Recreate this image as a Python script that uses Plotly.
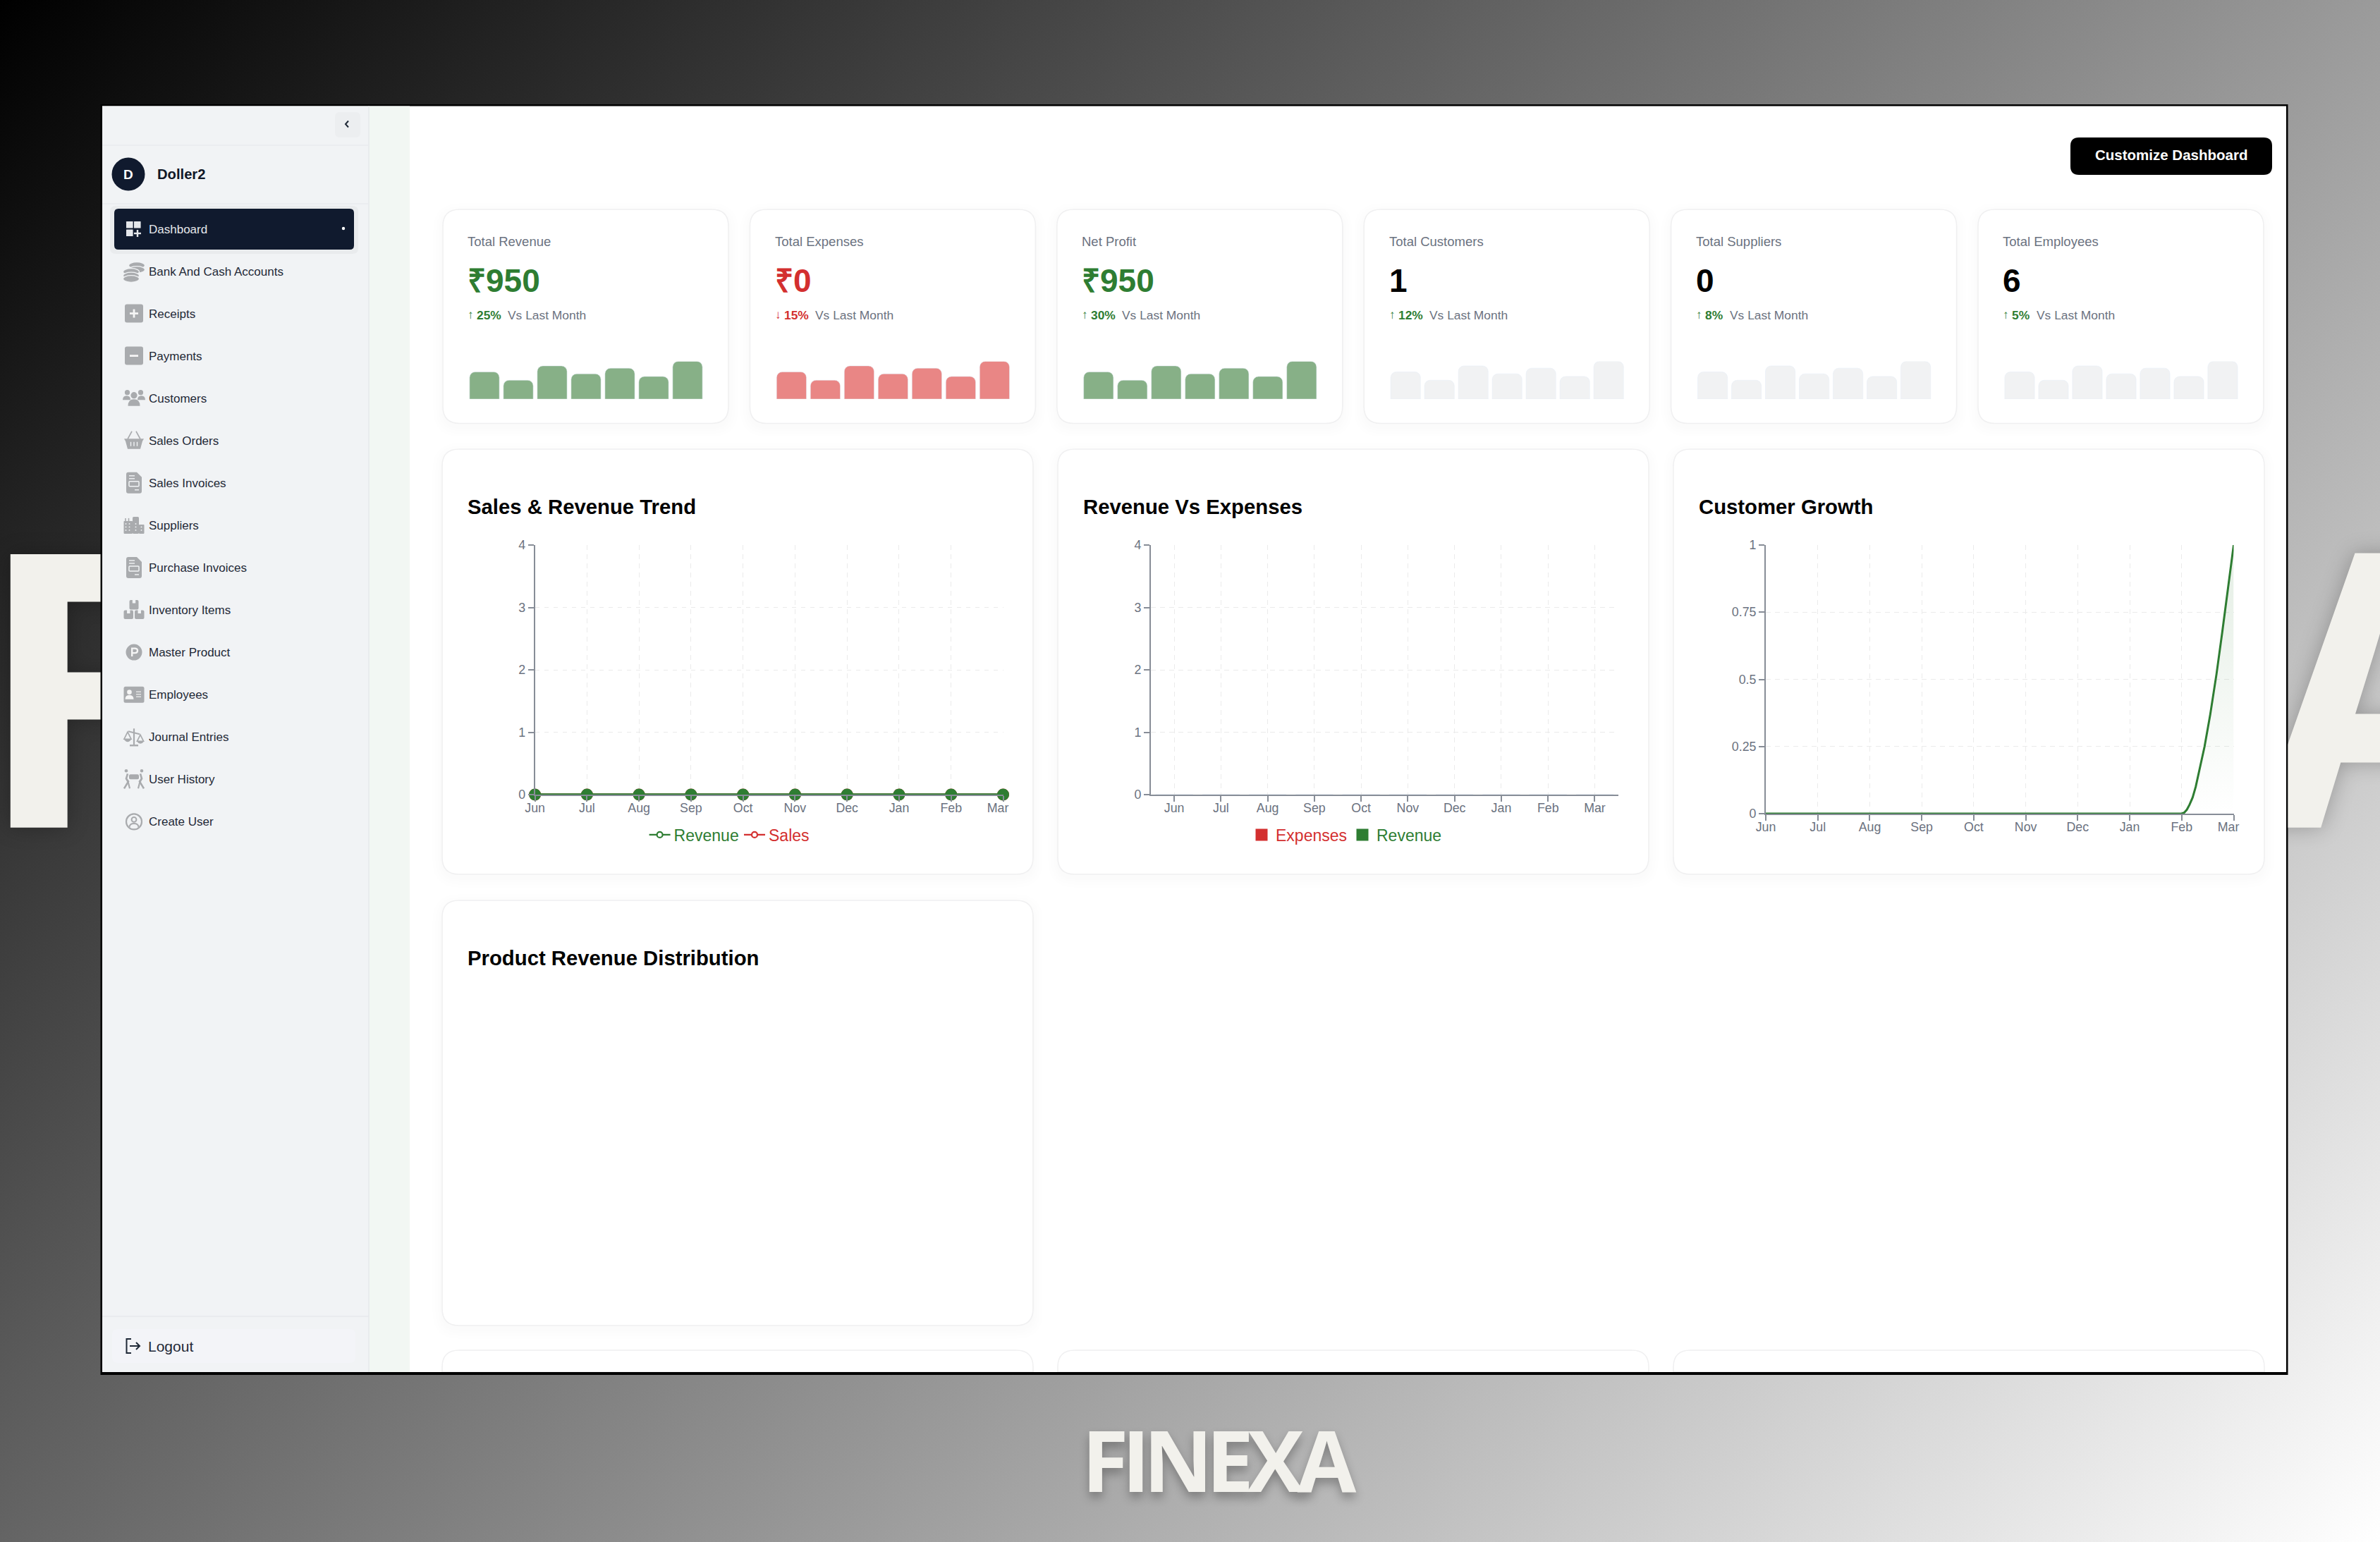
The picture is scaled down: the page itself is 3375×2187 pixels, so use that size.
import base64
import plotly.graph_objects as go

W, H = 3375, 2187
FONT = "Liberation Sans"
GREEN, RED = "#2E7D32", "#D32F2F"

# ---------- data ----------
months = ["Jun", "Jul", "Aug", "Sep", "Oct", "Nov", "Dec", "Jan", "Feb", "Mar"]
month_pos = list(range(10))
month_ticks = months[:-1] + ["Mar\u00a0\u00a0\u00a0"]
revenue_trend = [0, 0, 0, 0, 0, 0, 0, 0, 0, 0]
sales_trend = [0, 0, 0, 0, 0, 0, 0, 0, 0, 0]
expenses_bars = [0, 0, 0, 0, 0, 0, 0, 0, 0, 0]
revenue_bars = [0, 0, 0, 0, 0, 0, 0, 0, 0, 0]
trend_ticks = [0, 1, 2, 3, 4]
customer_x = [0, 1, 2, 3, 4, 5, 6, 7, 8, 8.05, 8.10, 8.15, 8.21, 8.27, 8.33, 8.44, 8.55, 8.67, 8.78, 8.89, 9]
customer_y = [0, 0, 0, 0, 0, 0, 0, 0, 0, 0.004, 0.015, 0.033, 0.06, 0.10, 0.15, 0.25, 0.37, 0.52, 0.675, 0.835, 1]
customer_ticks = [0, 0.25, 0.5, 0.75, 1]
customer_tick_text = ["0", "0.25", "0.5", "0.75", "1"]
kpi_labels = ["Total Revenue", "Total Expenses", "Net Profit", "Total Customers", "Total Suppliers", "Total Employees"]
kpi_values = ["₹950", "₹0", "₹950", "1", "0", "6"]
kpi_changes = ["25%", "15%", "30%", "12%", "8%", "5%"]
kpi_arrows = ["↑", "↓", "↑", "↑", "↑", "↑"]
spark_pos = [0, 1, 2, 3, 4, 5, 6]
spark_values = [72, 50, 88, 67, 82, 60, 100]
menu_items = ["Dashboard", "Bank And Cash Accounts", "Receipts", "Payments", "Customers", "Sales Orders",
              "Sales Invoices", "Suppliers", "Purchase Invoices", "Inventory Items", "Master Product",
              "Employees", "Journal Entries", "User History", "Create User"]

# ---------- pixel helpers for the page chrome ----------
fx = lambda x: x / W
fy = lambda y: 1 - y / H
shapes, notes = [], []


def P(x, y):
    return f"{fx(x):.6f},{fy(y):.6f}"


def path(d, fill=None, line=None, lw=0):
    s = dict(type="path", xref="paper", yref="paper", path=d, layer="below",
             line=dict(color=line or "rgba(0,0,0,0)", width=lw))
    if fill:
        s["fillcolor"] = fill
    shapes.append(s)


def rrect(x0, y0, x1, y1, r, fill, line=None, lw=0, square_bottom=False):
    if square_bottom:
        d = (f"M{P(x0, y1)} L{P(x0, y0 + r)} Q{P(x0, y0)} {P(x0 + r, y0)} L{P(x1 - r, y0)} "
             f"Q{P(x1, y0)} {P(x1, y0 + r)} L{P(x1, y1)} Z")
    else:
        d = (f"M{P(x0 + r, y0)} L{P(x1 - r, y0)} Q{P(x1, y0)} {P(x1, y0 + r)} L{P(x1, y1 - r)} "
             f"Q{P(x1, y1)} {P(x1 - r, y1)} L{P(x0 + r, y1)} Q{P(x0, y1)} {P(x0, y1 - r)} "
             f"L{P(x0, y0 + r)} Q{P(x0, y0)} {P(x0 + r, y0)} Z")
    path(d, fill, line, lw)


def poly(pts, fill=None, line=None, lw=0, close=True):
    d = "M" + " L".join(P(*p) for p in pts) + (" Z" if close else "")
    path(d, fill, line, lw)


def oval(cx, cy, rx, ry, fill=None, line=None, lw=0):
    shapes.append(dict(type="circle", xref="paper", yref="paper", layer="below",
                       x0=fx(cx - rx), x1=fx(cx + rx), y0=fy(cy + ry), y1=fy(cy - ry),
                       fillcolor=fill or "rgba(0,0,0,0)",
                       line=dict(color=line or "rgba(0,0,0,0)", width=lw)))


def dome(cx, top, w, h, fill):
    path(f"M{P(cx - w, top + h)} Q{P(cx - w, top)} {P(cx, top)} Q{P(cx + w, top)} {P(cx + w, top + h)} Z", fill)


def text(x, y, s, size, color, weight=400, anchor="left", family=FONT, shadow=None):
    font = dict(family=family, size=size, color=color, weight=weight)
    if shadow:
        font["shadow"] = shadow
    if anchor == "left":
        x -= 1.6
    notes.append(dict(x=fx(x), y=fy(y), xref="paper", yref="paper", text=s, showarrow=False,
                      xanchor=anchor, yanchor="middle", borderpad=0, font=font))


def card(x0, y0, x1, y1, r=24, open_bottom=False):
    if not open_bottom:
        for k in (14, 10, 6, 3):
            rrect(x0 - k, y0 - k + 5, x1 + k, y1 + k + 5, r + k, "rgba(0,0,0,0.005)")
    rrect(x0, y0, x1, y1, r, "#FFFFFF", "#F0F0F1", 1.6, square_bottom=open_bottom)


# ---------- backdrop ----------
svg = (f'<svg xmlns="http://www.w3.org/2000/svg" width="{W}" height="{H}"><defs>'
       '<linearGradient id="g" gradientUnits="userSpaceOnUse" x1="297" y1="-297" x2="3078" y2="2484">'
       '<stop offset="0" stop-color="#000"/><stop offset="1" stop-color="#fff"/></linearGradient></defs>'
       f'<rect width="{W}" height="{H}" fill="url(#g)"/></svg>')
backdrop = "data:image/svg+xml;base64," + base64.b64encode(svg.encode()).decode()

# ---------- window ----------
rrect(142.5, 148, 3244.5, 1950, 0.1, "#000000")
rrect(145, 150.5, 3242, 1946, 0.1, "#FFFFFF")
rrect(145, 150.5, 523, 1946, 0.1, "#F1F3F5")
rrect(523, 150.5, 581, 1946, 0.1, "#F2F7F3")
poly([(523, 150.5), (523, 1946)], line="#E6E8EB", lw=1.5, close=False)
poly([(145, 206), (523, 206)], line="#E9EBEE", lw=1.5, close=False)
poly([(145, 289), (523, 289)], line="#E9EBEE", lw=1.5, close=False)
poly([(145, 1867), (523, 1867)], line="#E6E8EB", lw=1.5, close=False)
rrect(475, 159, 511, 195, 7, "#ECEEF0")
poly([(494, 171.5), (490, 176), (494, 180.5)], line="#1F2937", lw=2, close=False)

oval(182, 247, 23.5, 23.5, "#101A2E")
text(182, 247, "D", 19, "#FFFFFF", 700, "center")
text(224, 247, "Doller2", 20.2, "#111827", 700)

rrect(156, 292, 508, 360, 8, "rgba(0,0,0,0.03)")
rrect(162, 296, 502, 354, 6, "#101A2E")
oval(487, 324, 2.2, 2.2, "#FFFFFF")

MENU_Y = [324.4 + 60.07 * i for i in range(len(menu_items))]
for i, (lbl, y) in enumerate(zip(menu_items, MENU_Y)):
    text(212, y + 0.6, lbl, 17, "#E5E7EB" if i == 0 else "#1F2937")

IC = "#A9ABAE"
BG = "#F1F3F5"
xc = 190


def doc(y):
    path(f"M{P(xc - 8, y - 15)} L{P(xc + 4, y - 15)} L{P(xc + 11, y - 8)} L{P(xc + 11, y + 12)} "
         f"Q{P(xc + 11, y + 15)} {P(xc + 8, y + 15)} L{P(xc - 8, y + 15)} Q{P(xc - 11, y + 15)} {P(xc - 11, y + 12)} "
         f"L{P(xc - 11, y - 12)} Q{P(xc - 11, y - 15)} {P(xc - 8, y - 15)} Z", IC)
    poly([(xc - 7, y - 10), (xc + 1, y - 10)], line=BG, lw=1.4, close=False)
    poly([(xc - 7, y - 6), (xc + 1, y - 6)], line=BG, lw=1.4, close=False)
    rrect(xc - 7, y - 2, xc + 7, y + 5, 1, None, BG, 1.5)
    poly([(xc + 1, y + 10), (xc + 7, y + 10)], line=BG, lw=1.4, close=False)


# dashboard
L = "#E5E7EB"
y = MENU_Y[0]
for a, b in ((179, 314), (190, 314), (179, 325.5)):
    rrect(a, b, a + 9.6, b + 9.6, 0.5, L)
poly([(195, 326), (195, 336)], line=L, lw=2.4, close=False)
poly([(190, 331), (200, 331)], line=L, lw=2.4, close=False)
# bank
y = MENU_Y[1]
for cx, cy in ((194, y - 8), (194, y - 2), (186, y + 1), (186, y + 6.5), (186, y + 11)):
    oval(cx, cy, 11.5, 4.8, IC, BG, 1.2)
# receipts / payments
for idx, plus in ((2, True), (3, False)):
    y = MENU_Y[idx]
    rrect(xc - 13, y - 13, xc + 13, y + 13, 3, IC)
    poly([(xc - 6, y), (xc + 6, y)], line="#F5F5F5", lw=2.8, close=False)
    if plus:
        poly([(xc, y - 6), (xc, y + 6)], line="#F5F5F5", lw=2.8, close=False)
# customers
y = MENU_Y[4]
for dx, dy, r, w, h in ((-9.5, -8, 3.6, 5.5, 6), (9.5, -8, 3.6, 5.5, 6)):
    oval(xc + dx, y + dy, r, r, IC)
    dome(xc + dx * 1.1, y + dy + 4.5, w, h, IC)
oval(xc, y - 4, 4.6, 4.6, IC)
dome(xc, y + 1.5, 8.5, 9.5, IC)
# basket
y = MENU_Y[5]
poly([(xc - 14, y - 2.5), (xc + 14, y - 2.5), (xc + 12, y + 1), (xc + 9, y + 12), (xc - 9, y + 12), (xc - 12, y + 1)], IC)
poly([(xc - 9, y - 2), (xc - 3, y - 13)], line=IC, lw=1.6, close=False)
poly([(xc + 9, y - 2), (xc + 3, y - 13)], line=IC, lw=1.6, close=False)
for dx in (-4.5, 0, 4.5):
    poly([(xc + dx, y + 2), (xc + dx, y + 8)], line=BG, lw=1.4, close=False)
# documents
doc(MENU_Y[6])
doc(MENU_Y[8])
# suppliers
y = MENU_Y[7]
rrect(xc - 14.5, y - 6, xc - 2, y + 12, 0.8, IC)
for dx in (-12, -7.5):
    poly([(xc + dx, y - 10), (xc + dx, y - 5)], line=IC, lw=1.6, close=False)
rrect(xc - 2, y - 12, xc + 7, y + 12, 1.5, IC)
rrect(xc + 7, y - 1, xc + 14.5, y + 12, 0.8, IC)
for dx in (-11.5, -6.5, 2.5, 10.5):
    for dy in (-2, 2.5, 7):
        oval(xc + dx, y + dy, 0.95, 0.95, BG)
# inventory
y = MENU_Y[9]
for a, b, c, d in ((xc - 6.5, y - 14, xc + 6.5, y - 0.5), (xc - 14.5, y + 0.5, xc - 1, y + 13), (xc + 1, y + 0.5, xc + 14.5, y + 13)):
    rrect(a, b, c, d, 2, IC)
    mid = (a + c) / 2
    rrect(mid - 2.2, b - 0.5, mid + 2.2, b + 4.5, 0.3, BG)
# master product
y = MENU_Y[10]
oval(xc, y, 11.5, 11.5, IC)
poly([(xc - 2.8, y + 6), (xc - 2.8, y - 5.5), (xc + 1.5, y - 5.5)], line="#F5F5F5", lw=2.4, close=False)
path(f"M{P(xc + 1, y - 5.5)} Q{P(xc + 5, y - 5.5)} {P(xc + 5, y - 2.3)} Q{P(xc + 5, y + 1)} {P(xc + 1, y + 1)} L{P(xc - 2.8, y + 1)}",
     None, "#F5F5F5", 2.4)
# employees
y = MENU_Y[11]
rrect(xc - 14.5, y - 11.5, xc + 14.5, y + 11.5, 2.5, IC)
oval(xc - 6.5, y - 3.5, 3.3, 3.3, "#F5F5F5")
dome(xc - 6.5, y + 0.5, 6, 6, "#F5F5F5")
for dy in (-4, -0.5, 3):
    poly([(xc + 3, y + dy), (xc + 10, y + dy)], line="#E8E8E8", lw=1.4, close=False)
# journal
y = MENU_Y[12]
poly([(xc - 8, y - 8), (xc + 8, y - 4)], line=IC, lw=2, close=False)
poly([(xc, y - 12), (xc, y + 11)], line=IC, lw=2.2, close=False)
poly([(xc - 6, y + 12), (xc + 6, y + 12)], line=IC, lw=2.4, close=False)
poly([(xc - 9, y - 7), (xc - 14, y + 3), (xc - 4, y + 3)], None, IC, 1.7)
path(f"M{P(xc - 14.5, y + 3)} Q{P(xc - 9, y + 11)} {P(xc - 3.5, y + 3)} Z", IC)
poly([(xc + 9, y - 3), (xc + 4.5, y + 6), (xc + 13.5, y + 6)], None, IC, 1.7)
path(f"M{P(xc + 3.8, y + 6)} Q{P(xc + 9, y + 13)} {P(xc + 14.5, y + 6)} Z", IC)
# user history
y = MENU_Y[13]
oval(xc - 11, y - 12, 2.3, 2.3, IC)
oval(xc + 11, y - 12, 2.3, 2.3, IC)
rrect(xc - 7, y - 7, xc + 7, y, 2, IC)
for s in (-1, 1):
    poly([(xc + s * 9, y - 8), (xc + s * 11, y - 1), (xc + s * 8, y + 3), (xc + s * 14, y + 13)], line=IC, lw=2.6, close=False)
    poly([(xc + s * 11, y - 1), (xc + s * 8, y + 5), (xc + s * 6, y + 13)], line=IC, lw=2.2, close=False)
# create user
y = MENU_Y[14]
oval(xc, y, 11, 11, None, IC, 2.2)
oval(xc, y - 3, 3.4, 3.4, None, IC, 2)
path(f"M{P(xc - 6.5, y + 7.5)} Q{P(xc - 6, y + 2.5)} {P(xc, y + 2.5)} Q{P(xc + 6, y + 2.5)} {P(xc + 6.5, y + 7.5)}", None, IC, 2)

# logout
rrect(159, 1885, 504, 1933, 8, "#F3F4F8")
poly([(186, 1899), (179.5, 1899), (179.5, 1919), (186, 1919)], line="#1F2937", lw=2, close=False)
poly([(184, 1909), (198, 1909)], line="#1F2937", lw=2, close=False)
poly([(193, 1904), (198, 1909), (193, 1914)], line="#1F2937", lw=2, close=False)
text(211, 1909, "Logout", 21, "#1F2937")

# customize button
rrect(2936, 195, 3222, 248, 12, "#000000")
text(3079, 220, "Customize Dashboard", 20.5, "#FFFFFF", 700, "center")

# ---------- KPI cards ----------
KPI_X = [628 + 435.4 * i for i in range(6)]
KPI_COL = [GREEN, RED, GREEN, "#000000", "#000000", "#000000"]
CH_COL = [GREEN, RED, GREEN, GREEN, GREEN, GREEN]
SPARK_COL = ["#87B087", "#E98685", "#87B087", "#F1F2F3", "#F1F2F3", "#F1F2F3"]
VS_OFFSET = [93, 93, 93, 93, 84, 84]
for i, x in enumerate(KPI_X):
    card(x, 297, x + 405, 600.5)
    text(x + 36, 343, kpi_labels[i], 18.5, "#6B7280")
    text(x + 36, 398, kpi_values[i], 46, KPI_COL[i], 700)
    text(x + 36, 446.5, kpi_arrows[i], 17, CH_COL[i])
    text(x + 49, 446.5, kpi_changes[i], 17.4, CH_COL[i], 700)
    text(x + VS_OFFSET[i], 446.5, "Vs Last Month", 17.4, "#6B7280")

# ---------- chart cards ----------
CARD_X = [627, 1500, 2373]
CHART_TITLES = ["Sales & Revenue Trend", "Revenue Vs Expenses", "Customer Growth"]
for x, t in zip(CARD_X, CHART_TITLES):
    card(x, 637, x + 838, 1240)
    text(x + 37, 719, t, 29.3, "#000000", 700)
card(627, 1277, 1465, 1880)
text(664, 1358, "Product Revenue Distribution", 29.3, "#000000", 700)
for x in CARD_X:
    card(x, 1915, x + 838, 1946, open_bottom=True)
poly([(145, 1946.5), (3242, 1946.5)], line="#000000", lw=1, close=False)

text(1729, 2069, '<span style="letter-spacing:-9.5px">FINEXA</span>', 121, "#F2F1EC", 700, "center",
     family="Open Sans", shadow="0 8px 14px rgba(0,0,0,0.28)")

# ---------- figure ----------
fig = go.Figure()
layout = dict(width=W, height=H, margin=dict(l=0, r=0, t=0, b=0, pad=0, autoexpand=False), autosize=False,
              paper_bgcolor="#888888", plot_bgcolor="rgba(0,0,0,0)", barmode="overlay",
              hovermode=False)


def dom_x(a, b):
    return [a / W, b / W]


def dom_y(a, b):
    return [1 - b / H, 1 - a / H]


def hidden(n, dx, dy, rx, ry):
    layout[f"xaxis{n}"] = dict(domain=dom_x(*dx), range=rx, visible=False, anchor=f"y{n}", fixedrange=True)
    layout[f"yaxis{n}"] = dict(domain=dom_y(*dy), range=ry, visible=False, anchor=f"x{n}", fixedrange=True)


# watermark letters, clipped by their own hidden plot areas so the window hides the rest
hidden(1, (0, 142.5), (700, 1260), [0, 142.5], [1260, 700])
hidden(2, (3244.5, 3375), (700, 1260), [3244.5, 3375], [1260, 700])
WM = dict(family="Open Sans", size=543, color="#F2F1EC", weight=700, shadow="0 0 30px rgba(0,0,0,0.25)")
fig.add_trace(go.Scatter(x=[115], y=[1038], mode="text", text=["F"], textposition="middle center", textfont=WM,
                         xaxis="x", yaxis="y", showlegend=False, cliponaxis=True))
fig.add_trace(go.Scatter(x=[3390], y=[1038], mode="text", text=["A"], textposition="middle center", textfont=WM,
                         xaxis="x2", yaxis="y2", showlegend=False, cliponaxis=True))

# sparklines
for i, x in enumerate(KPI_X):
    n = 3 + i
    hidden(n, (x + 35, x + 371), (512.5, 566), [-0.5, 6.5], [0, 100])
    fig.add_trace(go.Bar(x=spark_pos, y=spark_values, width=0.88, marker=dict(color=SPARK_COL[i], cornerradius=8),
                         xaxis=f"x{n}", yaxis=f"y{n}", showlegend=False))

AX = "#878D97"
TICKF = dict(family=FONT, size=17.8, color="#6B7280")
GRID = dict(showgrid=True, gridcolor="#EBEBEB", gridwidth=1.4, griddash="6.5px,6.5px", zeroline=False,
            showline=True, linecolor=AX, linewidth=2, ticks="outside", ticklen=8, tickwidth=1.6, tickcolor=AX,
            tickfont=TICKF, fixedrange=True)


def axes(n, dx, dy, rx, ry, yvals, ytext):
    layout[f"xaxis{n}"] = dict(domain=dom_x(*dx), range=rx, anchor=f"y{n}", tickmode="array", ticklabelstandoff=-6,
                               tickvals=month_pos, ticktext=month_ticks if rx[1] == 9 else months, **GRID)
    layout[f"yaxis{n}"] = dict(domain=dom_y(*dy), range=ry, anchor=f"x{n}", tickmode="array",
                               tickvals=yvals, ticktext=ytext, **GRID)


# Sales & Revenue Trend
axes(9, (758.6, 1422.5), (773, 1127), [0, 9], [0, 4], trend_ticks, [str(v) for v in trend_ticks])
fig.add_trace(go.Scatter(x=month_pos, y=sales_trend, mode="lines+markers", name="Sales", line=dict(color=RED, width=3),
                         marker=dict(size=17, color=RED), xaxis="x9", yaxis="y9", showlegend=False, cliponaxis=False))
fig.add_trace(go.Scatter(x=month_pos, y=revenue_trend, mode="lines+markers", name="Revenue", line=dict(color=GREEN, width=3.5),
                         marker=dict(size=17, color=GREEN), xaxis="x9", yaxis="y9", showlegend=False, cliponaxis=False))

# Revenue Vs Expenses
axes(10, (1632, 2294.6), (773, 1127), [-0.5, 9.5], [0, 4], trend_ticks, [str(v) for v in trend_ticks])
layout["xaxis10"]["showgrid"] = False
fig.add_trace(go.Bar(x=month_pos, y=expenses_bars, name="Expenses", marker=dict(color=RED), xaxis="x10", yaxis="y10", showlegend=False))
fig.add_trace(go.Bar(x=month_pos, y=revenue_bars, name="Revenue", marker=dict(color=GREEN), xaxis="x10", yaxis="y10", showlegend=False))
# vertical grid of the band axis: one line per month and one on the right edge
layout["xaxis12"] = dict(domain=dom_x(1632, 2294.6), range=[-0.5, 9.5], anchor="y12", overlaying="x10", tickmode="array",
                         tickvals=month_pos + [9.5], showticklabels=False, ticks="", showgrid=True, gridcolor="#EBEBEB",
                         gridwidth=1.4, griddash="6.5px,6.5px", zeroline=False, fixedrange=True)
layout["yaxis12"] = dict(domain=dom_y(773, 1127), range=[0, 4], anchor="x12", visible=False, fixedrange=True)
fig.add_trace(go.Scatter(x=[None], y=[None], xaxis="x12", yaxis="y12", showlegend=False))

# Customer Growth
axes(11, (2504, 3167.5), (773, 1154), [0, 9], [0, 1], customer_ticks, customer_tick_text)
fig.add_trace(go.Scatter(x=customer_x, y=customer_y, mode="lines", name="Customers", line=dict(color=GREEN, width=3),
                         fill="tozeroy", fillcolor="rgba(46,125,50,0.1)",
                         fillgradient=dict(type="vertical", colorscale=[[0, "rgba(46,125,50,0)"], [1, "rgba(46,125,50,0.13)"]]),
                         xaxis="x11", yaxis="y11", showlegend=False, cliponaxis=False))

# legends: one per entry so each label can carry its series colour
LEG_ROW = 1 - 1184 / H


def legend(key, x, color):
    layout[key] = dict(x=x / W, y=LEG_ROW, xanchor="left", yanchor="middle", bgcolor="rgba(0,0,0,0)", borderwidth=0,
                       orientation="h", itemwidth=30, font=dict(family=FONT, size=23, color=color),
                       itemclick=False, itemdoubleclick=False)


legend("legend", 915.6, GREEN)
legend("legend2", 1050, RED)
legend("legend3", 1769, RED)
legend("legend4", 1912, GREEN)
for name, color, key in (("Revenue", GREEN, "legend"), ("Sales", RED, "legend2")):
    fig.add_trace(go.Scatter(x=[None], y=[None], mode="lines+markers", name=name, legend=key,
                             line=dict(color=color, width=2.2),
                             marker=dict(size=8, color="#FFFFFF", line=dict(color=color, width=2.2)),
                             xaxis="x9", yaxis="y9"))
for name, color, key in (("Expenses", RED, "legend3"), ("Revenue", GREEN, "legend4")):
    fig.add_trace(go.Bar(x=[None], y=[None], name=name, legend=key,
                         marker=dict(color=color, line=dict(color=color, width=5)), xaxis="x10", yaxis="y10"))

layout["shapes"] = shapes
layout["annotations"] = notes
layout["images"] = [dict(source=backdrop, xref="paper", yref="paper", x=0, y=1, sizex=1, sizey=1,
                         xanchor="left", yanchor="top", sizing="stretch", layer="below")]
fig.update_layout(**layout)
fig.write_html("out.html", config=dict(displayModeBar=False),
               post_script="document.body.style.margin='0';document.body.style.overflow='hidden';")
